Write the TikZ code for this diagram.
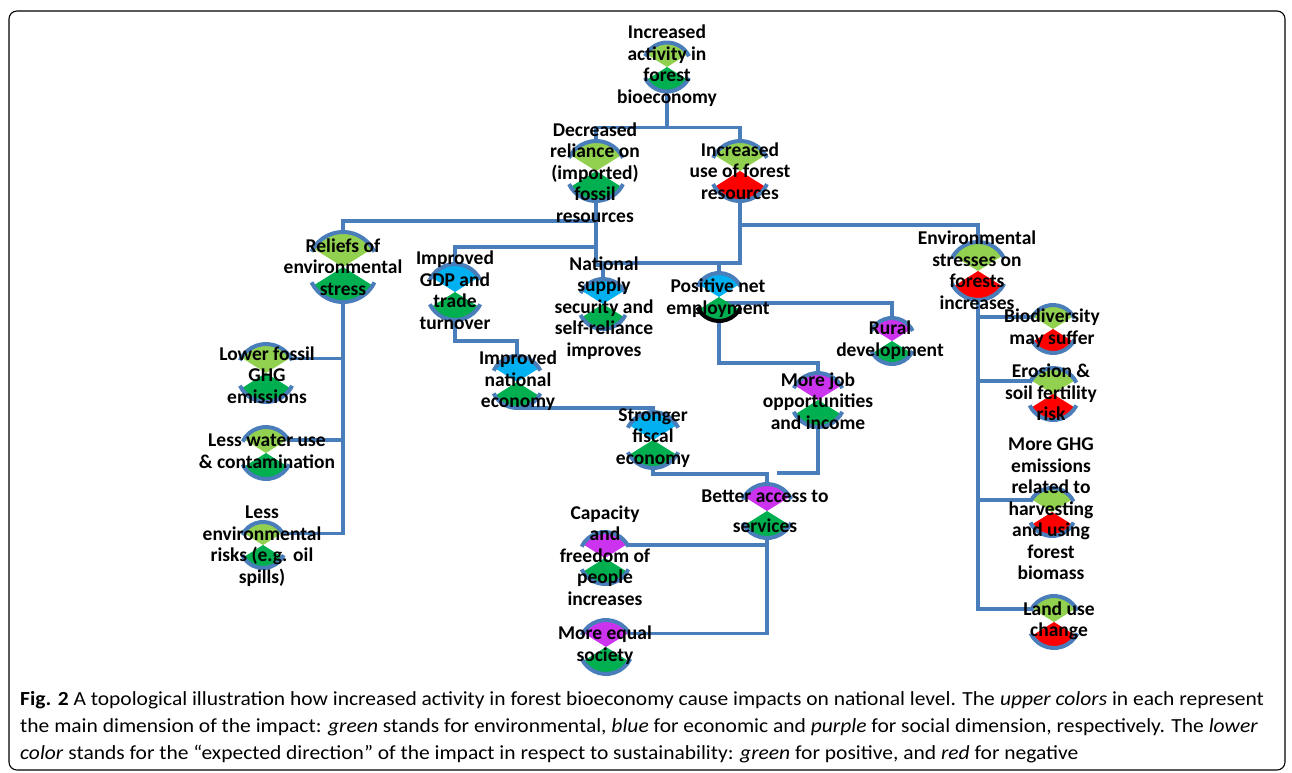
\documentclass[tikz,border=0pt]{standalone}
\usepackage{fontspec}
\setmainfont{Carlito}
\newfontfamily\capfont{Carlito}[FakeStretch=1.075]
\usetikzlibrary{calc}
\pgfdeclarelayer{back}
\pgfsetlayers{back,main}

\definecolor{rimblue}{HTML}{4A7EBB}
\definecolor{envgreen}{HTML}{92D050}
\definecolor{posgreen}{HTML}{00B050}
\definecolor{ecoblue}{HTML}{00B0F0}
\definecolor{socpurple}{HTML}{CC33EE}
\definecolor{negred}{HTML}{FF0000}

% upper and lower colour of one impact, #1 = rim of the lower part
\newcommand{\dimglyph}[6][rimblue]{%
  \coordinate (#2-c) at (#3);
  \coordinate (#2-t) at ($(#3)+(0,-#4)$);
  \coordinate (#2-b) at ($(#3)+(0,#4)$);
  \coordinate (#2-l) at ($(#3)+(210:#4)$);
  \coordinate (#2-r) at ($(#3)+(330:#4)$);
  \fill[#5] (#3) -- ++(212:#4) arc (212:328:#4) -- cycle;
  \fill[#6] (#3) -- ++(32:#4) arc (32:148:#4) -- cycle;
  \draw[rim] ($(#3)+(206:#4)$) arc (206:334:#4);
  \draw[rim,#1] ($(#3)+(26:#4)$) arc (26:154:#4);
}

\begin{document}
\begin{tikzpicture}[x=1pt,y=-1pt]
  \tikzset{ lbl/.style={font=\bfseries\fontsize{19.5}{21.5}\selectfont,align=center,inner sep=0pt},
    rim/.style={draw=rimblue,line width=4pt},
    link/.style={draw=rimblue,line width=3.6pt},
  }
  \useasboundingbox (0,0) rectangle (1292,772);
  % the frame
  \draw[rounded corners=8pt,line width=1.1pt] (9,11) rectangle (1285,770);

  % the glyphs
  \dimglyph{act}{667,67}{24.5}{envgreen}{posgreen}
  \dimglyph{dec}{596,171}{30}{envgreen}{posgreen}
  \dimglyph{use}{740,171}{30}{envgreen}{negred}
  \dimglyph{rel}{343,267}{35}{envgreen}{posgreen}
  \dimglyph{low}{266,373}{29}{envgreen}{posgreen}
  \dimglyph{wat}{266,453}{26}{envgreen}{posgreen}
  \dimglyph{risk}{263,545}{23}{envgreen}{posgreen}
  \dimglyph{gdp}{455,292}{28}{ecoblue}{posgreen}
  \dimglyph{nat}{603,304}{25}{ecoblue}{posgreen}
  \dimglyph[black]{pos}{719,297}{24}{ecoblue}{posgreen}
  \dimglyph{rur}{892,341}{23}{socpurple}{posgreen}
  \dimglyph{nec}{517,382}{26}{ecoblue}{posgreen}
  \dimglyph{fis}{653,440}{28}{ecoblue}{posgreen}
  \dimglyph{job}{818,400}{27}{socpurple}{posgreen}
  \dimglyph{acc}{767,511}{27}{socpurple}{posgreen}
  \dimglyph{cap}{605,558}{26}{socpurple}{posgreen}
  \dimglyph{equ}{606,647}{27}{socpurple}{posgreen}
  \dimglyph{env}{978,271}{29}{envgreen}{negred}
  \dimglyph{bio}{1053,329}{24}{envgreen}{negred}
  \dimglyph{ero}{1053,394}{26}{envgreen}{negred}
  \dimglyph{ghg}{1052,512}{24}{envgreen}{negred}
  \dimglyph{lan}{1054,622}{26}{envgreen}{negred}
  \coordinate (acc-in) at (777,473);

  % the connections
  \begin{pgfonlayer}{back}
  \draw[link] (act-b) -- ++(0,36) -| (dec-t);
  \draw[link] (act-b) -- ++(0,36) -| (use-t);
  \draw[link] (dec-b) -- ++(0,20) -| (rel-t);
  \draw[link] (dec-b) -- ++(0,46) -| (gdp-t);
  \draw[link] (dec-b) -- ++(0,64) -| (nat-t);
  \draw[link] (use-b) -- ++(0,24) -| (env-t);
  \draw[link] (use-b) -- ++(0,62) -| (nat-t);
  \draw[link] (use-b) -- ++(0,62) -| (pos-t);
  \draw[link] (rel-b) |- (low-r);
  \draw[link] (rel-b) |- (wat-r);
  \draw[link] (rel-b) |- (risk-r);
  \draw[link] (gdp-b) -- ++(0,21) -| (nec-t);
  \draw[link] (nec-b) -| (fis-t);
  \draw[link] (fis-b) -- ++(0,6) -| (acc-t);
  \draw[link] (pos-c) ++(0,6) -| (rur-t);
  \draw[link] (pos-b) -- ++(0,42) -| (job-t);
  \draw[link] (job-b) |- (acc-in);
  \draw[link] (acc-b) |- (cap-r);
  \draw[link] (acc-b) |- (equ-r);
  \draw[link] (env-b) |- (bio-l);
  \draw[link] (env-b) |- (ero-l);
  \draw[link] (env-b) |- (ghg-l);
  \draw[link] (env-b) |- (lan-l);
  \end{pgfonlayer}

  % the labels
  \node[lbl] (act) at (667,65.5) {Increased\\activity in\\forest\\bioeconomy};
  \node[lbl] (dec) at (595,172.5) {Decreased\\reliance on\\(imported)\\fossil\\resources};
  \node[lbl] (use) at (740,171) {Increased\\use of forest\\resources};
  \node[lbl] (rel) at (343,267) {Reliefs of\\environmental\\stress};
  \node[lbl] (low) at (267,375) {Lower fossil\\GHG\\emissions};
  \node[lbl] (wat) at (267,451) {Less water use\\\& contamination};
  \node[lbl] (risk) at (262,546) {Less\\environmental\\risks (e.g. oil\\spills)};
  \node[lbl] (gdp) at (455,290) {Improved\\GDP and\\trade\\turnover};
  \node[lbl] (nat) at (604,308) {National\\supply\\security and\\self-reliance\\improves};
  \node[lbl] (pos) at (718,298) {Positive net\\employment};
  \node[lbl] (rur) at (890,340) {Rural\\development};
  \node[lbl] (nec) at (518,381) {Improved\\national\\economy};
  \node[lbl] (fis) at (653,438) {Stronger\\fiscal\\economy};
  \node[lbl] (job) at (818,401) {More job\\opportunities\\and income};
  \node[lbl] (acc) at (765,511) {Better access to\\[8.5pt]services};
  \node[lbl] (cap) at (605,555.5) {Capacity\\and\\freedom of\\people\\increases};
  \node[lbl] (equ) at (605,645) {More equal\\society};
  \node[lbl] (env) at (977,270) {Environmental\\stresses on\\forests\\increases};
  \node[lbl] (bio) at (1052,328) {Biodiversity\\may suffer};
  \node[lbl] (ero) at (1051,392.5) {Erosion \&\\soil fertility\\risk};
  \node[lbl] (ghg) at (1051,509) {More GHG\\emissions\\related to\\harvesting\\and using\\forest\\biomass};
  \node[lbl] (lan) at (1059,621) {Land use\\change};

  % the caption
  \node[anchor=north west,align=left,inner sep=0pt,font=\capfont\fontsize{20}{27}\selectfont] (caption) at (20,691)
    {\textbf{Fig. 2} A topological illustration how increased activity in forest bioeconomy cause impacts on national level. The \textit{upper colors} in each represent\\
     the main dimension of the impact: \textit{green} stands for environmental, \textit{blue} for economic and \textit{purple} for social dimension, respectively. The \textit{lower}\\
     \textit{color} stands for the “expected direction” of the impact in respect to sustainability: \textit{green} for positive, and \textit{red} for negative};
\end{tikzpicture}
\end{document}
